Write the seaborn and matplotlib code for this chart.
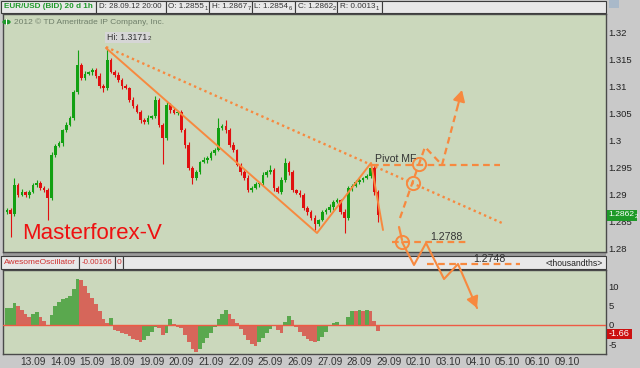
import matplotlib
matplotlib.use("Agg")
import matplotlib.pyplot as plt
from matplotlib.patches import Rectangle, Circle
import numpy as np
import pandas as pd
import seaborn as sns

W, H, DPI = 640, 368, 100

# ---------------- data ----------------
start_day = -0.875          # position of first candle (day units, 13.09 = 0)
step = 0.125                # 3-hour candles
first_open = 1.28680
closes = [
    1.28722, 1.28648, 1.29185, 1.29000, 1.29056, 1.29000, 1.29056, 1.29185, 1.29222, 1.29130,
    1.29093, 1.28944, 1.29741, 1.29907, 1.29963, 1.30204, 1.30296, 1.30426, 1.30907, 1.31407,
    1.31167, 1.31241, 1.31278, 1.31315, 1.31204, 1.31019, 1.30981, 1.31500, 1.31278, 1.31222,
    1.31130, 1.31019, 1.30981, 1.30759, 1.30648, 1.30537, 1.30389, 1.30352, 1.30426, 1.30463,
    1.30759, 1.30296, 1.30056, 1.30667, 1.30574, 1.30519, 1.30537, 1.30204, 1.29926, 1.29500,
    1.29315, 1.29426, 1.29611, 1.29648, 1.29685, 1.29778, 1.29833, 1.30241, 1.30278, 1.30204,
    1.29926, 1.29833, 1.29556, 1.29426, 1.29315, 1.29093, 1.29130, 1.29204, 1.29222, 1.29370,
    1.29426, 1.29463, 1.29130, 1.29056, 1.29278, 1.29593, 1.29426, 1.29093, 1.29037, 1.29000,
    1.28759, 1.28685, 1.28574, 1.28463, 1.28537, 1.28685, 1.28722, 1.28778, 1.28870, 1.28907,
    1.28685, 1.28574, 1.29130, 1.29167, 1.29241, 1.29278, 1.29315, 1.29352, 1.29500, 1.29056,
    1.28622,
]
wick_up_pips = [
    3, 4, 13, 3, 5, 2, 4, 3, 5, 3,
    4, 3, 5, 3, 4, 2, 5, 3, 4, 28,
    3, 5, 2, 4, 3, 5, 3, 22, 4, 3,
    5, 3, 4, 2, 5, 3, 4, 3, 5, 2,
    7, 3, 4, 7, 3, 5, 2, 4, 3, 5,
    3, 4, 2, 5, 3, 4, 3, 19, 4, 11,
    3, 5, 2, 4, 3, 5, 3, 4, 2, 5,
    3, 9, 4, 3, 5, 9, 3, 4, 2, 5,
    3, 4, 3, 5, 2, 4, 3, 5, 3, 4,
    2, 5, 3, 4, 3, 5, 2, 4, 9, 3,
    3,
]
wick_dn_pips = [
    3, 43, 3, 4, 2, 3, 5, 2, 3, 4,
    3, 41, 4, 3, 2, 5, 3, 2, 4, 3,
    4, 3, 2, 5, 3, 4, 7, 3, 2, 4,
    3, 5, 2, 4, 3, 2, 5, 3, 4, 2,
    3, 4, 48, 3, 5, 2, 4, 3, 5, 3,
    11, 4, 3, 2, 5, 3, 4, 2, 3, 5,
    3, 4, 2, 5, 3, 4, 3, 2, 5, 3,
    4, 3, 5, 2, 4, 3, 5, 3, 2, 4,
    3, 5, 4, 11, 3, 2, 4, 3, 5, 2,
    4, 28, 3, 5, 2, 4, 3, 2, 4, 5,
    12,
]
ao_values = [
    4.5, 4.6, 5.8, 5.0, 4.0, 3.0, 2.2, 2.8, 3.3, 2.2,
    1.0, 0.1, 2.5, 5.0, 6.0, 6.8, 7.2, 7.6, 9.5, 12.0,
    11.8, 10.2, 8.5, 7.0, 5.5, 3.8, 1.5, 0.6, 1.8, -1.2,
    -1.6, -2.0, -2.4, -3.0, -3.6, -4.0, -4.4, -4.0, -3.0, -1.8,
    -0.6, -0.8, -2.5, -2.0, 1.6, 0.2, -0.4, -0.8, -2.5, -4.5,
    -6.2, -7.0, -6.2, -4.8, -3.4, -2.0, -0.5, 1.5, 3.0, 4.0,
    3.0, 1.6, 0.4, -1.0, -2.5, -4.0, -5.0, -5.6, -4.6, -3.4,
    -2.2, -1.0, -0.2, -1.2, -2.0, 0.8, 2.4, 1.2, -0.6, -1.8,
    -3.0, -3.6, -4.2, -4.5, -4.3, -3.2, -1.8, -0.3, 0.6, 0.7,
    0.1, 0.0, 2.0, 3.7, 3.6, 4.0, 3.8, 4.0, 3.6, 1.0,
    -1.66,
]

price_ticks = [1.32, 1.315, 1.31, 1.305, 1.30, 1.295, 1.29, 1.285, 1.28]
price_labels = ["1.32", "1.315", "1.31", "1.305", "1.3", "1.295", "1.29", "1.285", "1.28"]
ao_ticks = [10, 5, 0, -5]
ao_labels = ["10", "5", "0", "-5"]
date_labels = ["13.09", "14.09", "15.09", "18.09", "19.09", "20.09", "21.09", "22.09",
               "25.09", "26.09", "27.09", "28.09", "29.09", "02.10", "03.10", "04.10",
               "05.10", "06.10", "09.10"]

last_price_main, last_price_sub = "1.2862", "2"
ao_last_label = "-1.66"
hi_main, hi_sub = "Hi: 1.3171", "2"

# hand-drawn analysis overlay (day, price)
trend_solid_d = [2.460, 9.572, 11.392, 11.796]
trend_solid_p = [1.31722, 1.28296, 1.29593, 1.28352]
trend_dotted_d = [2.460, 15.807]
trend_dotted_p = [1.31741, 1.28481]
pivot_level = 1.29556
pivot_span = [11.426, 15.74]
up_path_d = [12.369, 13.212, 13.785, 14.459]
up_path_p = [1.28574, 1.29889, 1.29556, 1.30944]
up_circles_d = [13.010, 12.808]
up_circles_p = [1.29574, 1.29222]
level1_price, level1_label = 1.28130, "1.2788"
level1_span = [12.100, 14.627]
level1_circle = (12.437, 1.28130)
short_dash_d = [12.336, 12.437]
short_dash_p = [1.28407, 1.28167]
down_path_d = [12.437, 12.841, 13.246, 13.853, 14.324, 14.965]
down_path_p = [1.28130, 1.27704, 1.28111, 1.27444, 1.27722, 1.26907]
level2_price, level2_label = 1.27722, "1.2748"
level2_span = [13.28, 16.41]

# ---------------- styling ----------------
sns.set_theme(style="white")
plt.rcParams['font.family'] = ['Liberation Sans', 'DejaVu Sans']

ORANGE = '#f7893f'
PLOT_BG = '#cbd8bc'
FIG_BG = '#c9c9c9'
GREEN_C = '#12a012'
RED_C = '#e01010'
AO_GREEN = '#5aa84e'
AO_RED = '#d6665a'

def fx(x):
    return x / W

def fy(y):
    return 1 - y / H

fig = plt.figure(figsize=(W / DPI, H / DPI), dpi=DPI, facecolor=FIG_BG)
renderer = fig.canvas.get_renderer()

ax = fig.add_axes([fx(3), fy(252), (606 - 3) / W, (252 - 14) / H])
ax2 = fig.add_axes([fx(3), fy(354), (606 - 3) / W, (354 - 270) / H])
ax.set_zorder(5)
ax2.set_zorder(0)
for a in (ax, ax2):
    a.set_facecolor(PLOT_BG)
    for s in a.spines.values():
        s.set_color('#4a4a4a')
        s.set_linewidth(1.0)
    a.set_xlim(-1.011, 19.312)

# ---------------- candles ----------------
df = pd.DataFrame({'day': start_day + step * np.arange(len(closes)), 'close': closes})
df['open'] = [first_open] + closes[:-1]
df['high'] = np.maximum(df['open'], df['close']) + np.array(wick_up_pips) * 1e-4
df['low'] = np.minimum(df['open'], df['close']) - np.array(wick_dn_pips) * 1e-4
df['up'] = df['close'] >= df['open']
cols = np.where(df['up'], GREEN_C, RED_C)

ax.vlines(df['day'], df['low'], df['high'], colors=cols, lw=0.8, zorder=2)
body_h = np.maximum((df['close'] - df['open']).abs(), 0.00012)
ax.bar(df['day'], body_h, bottom=np.minimum(df['open'], df['close']), width=0.09,
       color=cols, linewidth=0, zorder=3)

ax.set_ylim(1.279444, 1.323518)
ax.yaxis.tick_right()
ax.set_yticks(price_ticks)
ax.set_yticklabels(price_labels)
ax.tick_params(axis='y', length=0, pad=2, labelsize=6.8, labelcolor='#222222')
ax.set_xticks([])

# ---------------- overlay ----------------
sns.lineplot(x=trend_solid_d, y=trend_solid_p, sort=False, estimator=None, ax=ax,
             color=ORANGE, lw=1.4, zorder=6)
ax.plot(trend_dotted_d, trend_dotted_p, color=ORANGE, lw=1.7, ls=(0, (1, 1.4)), zorder=6)
ax.plot(pivot_span, [pivot_level, pivot_level], color=ORANGE, lw=1.6, ls=(0, (3, 2)), zorder=6)
ax.plot(up_path_d, up_path_p, color=ORANGE, lw=1.6, ls=(0, (3, 2)), zorder=6)
ax.plot(up_circles_d, up_circles_p, ls='none', marker='o', ms=9.5, mfc='none',
        mec=ORANGE, mew=1.4, zorder=7)
ax.plot(level1_span, [level1_price, level1_price], color=ORANGE, lw=1.6, ls=(0, (3, 2)),
        zorder=6, clip_on=False)
ax.plot(short_dash_d, short_dash_p, color=ORANGE, lw=1.6, zorder=6, clip_on=False)
ax.plot([level1_circle[0]], [level1_circle[1]], ls='none', marker='o', ms=9.5, mfc='none',
        mec=ORANGE, mew=1.4, zorder=7, clip_on=False)
ax.plot(down_path_d, down_path_p, color=ORANGE, lw=1.5, zorder=6, clip_on=False)
ax.plot(level2_span, [level2_price, level2_price], color=ORANGE, lw=1.6, ls=(0, (3, 2)),
        zorder=6, clip_on=False)

def head(dd, pp):
    x0 = dd[-2] + 0.8 * (dd[-1] - dd[-2])
    y0 = pp[-2] + 0.8 * (pp[-1] - pp[-2])
    ax.annotate('', xy=(dd[-1], pp[-1]), xytext=(x0, y0),
                arrowprops=dict(arrowstyle='-|>,head_length=0.55,head_width=0.3',
                                color=ORANGE, lw=1.5, shrinkA=0, shrinkB=0),
                annotation_clip=False, zorder=8)

head(up_path_d, up_path_p)
head(down_path_d, down_path_p)

ax.text(11.527, 1.29620, "Pivot MF", fontsize=7.6, color='#333333', ha='left',
        va='baseline', zorder=8)
ax.text(13.38, 1.28160, level1_label, fontsize=7.6, color='#333333', ha='left',
        va='baseline', zorder=8, clip_on=False)
ax.text(14.83, 1.27760, level2_label, fontsize=7.6, color='#333333', ha='left',
        va='baseline', zorder=8, clip_on=False)
ax.text(-0.371, 1.28296, "Masterforex-V", fontsize=16, color='#ee1111', ha='left',
        va='center', zorder=8)

# ---------------- AO panel ----------------
ao = np.array(ao_values)
ao_prev = np.concatenate([[ao[0]], ao[:-1]])
ao_cols = np.where(ao >= ao_prev, AO_GREEN, AO_RED)
ax2.bar(df['day'], ao, width=step, color=ao_cols, linewidth=0, zorder=2)
ax2.axhline(0, color='#ee5a44', lw=1.0, zorder=3)
ax2.set_ylim(-7.63, 14.47)
ax2.yaxis.tick_right()
ax2.set_yticks(ao_ticks)
ax2.set_yticklabels(ao_labels)
ax2.tick_params(axis='y', length=0, pad=2, labelsize=6.8, labelcolor='#222222')
ax2.set_xticks(np.arange(len(date_labels)))
ax2.set_xticklabels(date_labels)
ax2.tick_params(axis='x', length=0, pad=2.5, labelsize=7.3, labelcolor='#333333')

# ---------------- figure furniture ----------------
def frect(x0, y0, x1, y1, fc, ec='none', lw=0.8, z=2):
    fig.add_artist(Rectangle((fx(x0), fy(y1)), (x1 - x0) / W, (y1 - y0) / H,
                             transform=fig.transFigure, fc=fc, ec=ec, lw=lw, zorder=z))

def ftext(x, y, s, size, color, sub=None, z=12, **kw):
    t = fig.text(fx(x), fy(y), s, fontsize=size, color=color, ha='left', va='center',
                 zorder=z, **kw)
    if sub is not None:
        bb = t.get_window_extent(renderer=renderer)
        fig.text(bb.x1 / W + 0.5 / W, fy(y + 1.2), sub, fontsize=size * 0.72, color=color,
                 ha='left', va='center', zorder=z)
    return t

# header row
header_cells = [(1, 96), (96, 166), (166, 209), (209, 252), (252, 295), (295, 337), (337, 382), (382, 606)]
for x0, x1 in header_cells:
    frect(x0, 1, x1, 13, '#e8e8e8', ec='#3c3c3c', lw=0.8)
ftext(4, 7, "EUR/USD (BID) 20 d 1h", 5.9, '#1f9a2a', fontweight='bold')
ftext(99, 7, "D: 28.09.12 20:00", 5.7, '#333333')
ftext(168.5, 7, "O: 1.2855", 5.9, '#333333', sub="1")
ftext(211.5, 7, "H: 1.2867", 5.9, '#333333', sub="7")
ftext(254.5, 7, "L: 1.2854", 5.9, '#333333', sub="6")
ftext(297.5, 7, "C: 1.2862", 5.9, '#333333', sub="2")
ftext(339.5, 7, "R: 0.0013", 5.9, '#333333', sub="1")
frect(609, 0, 619, 8, '#a9b9c9', z=2)

# copyright line
fig.add_artist(Circle((fx(6.5), fy(22)), 4.2 / W, transform=fig.transFigure,
                      fc='#1f9a2a', ec='none', zorder=12))
fig.add_artist(Rectangle((fx(5.8), fy(25)), 1.3 / W, 6 / H, transform=fig.transFigure,
                         fc='white', ec='none', zorder=13))
ftext(14, 22, "2012 \u00a9 TD Ameritrade IP Company, Inc.", 6.0, '#6f7f6a')

# Hi label
frect(105, 32, 150, 43, '#d6d6d6', z=11)
ftext(107, 37.5, hi_main, 6.3, '#333333', sub=hi_sub)

# separator band + AO header
frect(3, 252, 606, 256, '#9a9a9a', z=1)
ao_cells = [(1, 79), (79, 115), (115, 123), (123, 606)]
for x0, x1 in ao_cells:
    frect(x0, 256, x1, 269, '#e8e8e8', ec='#3c3c3c', lw=0.8, z=1)
ftext(4, 262.5, "AwesomeOscillator", 6.0, '#d03030', z=2)
ftext(81.5, 262.5, "-0.00166", 5.7, '#d03030', z=2)
ftext(117, 262.5, "0", 6.0, '#d03030', z=2)
fig.text(fx(603), fy(263.5), "<thousandths>", fontsize=6.2, color='#222222', ha='right',
         va='center', zorder=2)

# last value boxes
frect(607, 209.5, 637, 220.5, '#1e9a28', z=12)
ftext(608.5, 215, last_price_main, 6.1, 'white', sub=last_price_sub, z=13)
frect(607, 328.5, 632, 339, '#cc1010', z=12)
ftext(609, 334, ao_last_label, 6.6, 'white', z=13)

fig.savefig("out.png", dpi=DPI, facecolor=FIG_BG)
